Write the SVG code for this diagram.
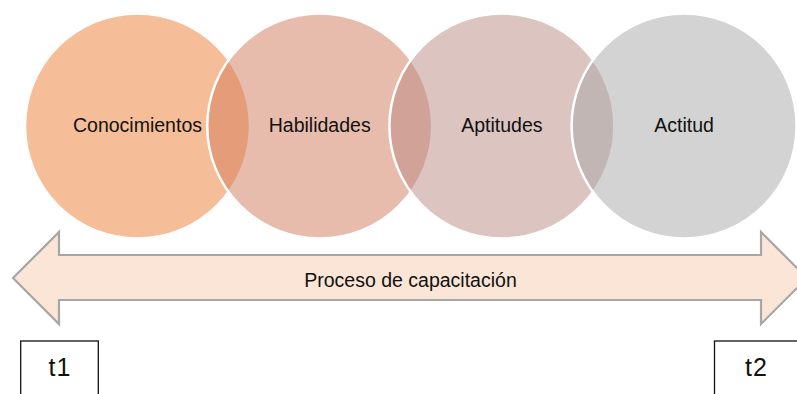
<svg xmlns="http://www.w3.org/2000/svg" width="797" height="394" viewBox="0 0 797 394">
<style>
.c{fill-opacity:0.5;stroke:#ffffff;stroke-width:2.5}
.lbl{font-family:"Liberation Sans",Arial,sans-serif;font-size:19.5px;fill:#111111;text-anchor:middle}
.t{font-family:"Liberation Sans",Arial,sans-serif;font-size:25px;fill:#111111;text-anchor:middle;letter-spacing:1px}
.box{fill:#ffffff;stroke:#111111;stroke-width:1.3}
</style>
<rect width="797" height="394" fill="#ffffff"/>
<g id="conocimientos">
<circle class="c" cx="137.5" cy="126" r="112.5" fill="#ED7D31"/>
</g>
<g id="habilidades">
<circle class="c" cx="319.7" cy="126" r="112.5" fill="#D1795A"/>
</g>
<g id="aptitudes">
<circle class="c" cx="501.9" cy="126" r="112.5" fill="#B98984"/>
</g>
<g id="actitud">
<circle class="c" cx="684.1" cy="126" r="112.5" fill="#A7A7A7"/>
</g>
<g id="labels">
<text class="lbl" x="137.5" y="132">Conocimientos</text>
<text class="lbl" x="319.7" y="132">Habilidades</text>
<text class="lbl" x="501.9" y="132">Aptitudes</text>
<text class="lbl" x="684.1" y="132">Actitud</text>
</g>
<g id="connectors">
<g id="proceso">
<polygon points="13,278 59,232 59,255 761,255 761,232 807,278 761,324 761,300 59,300 59,324" fill="#FBE5D6" stroke="#A6A6A6" stroke-width="2.2" stroke-linejoin="miter"/>
<text class="lbl" x="410.5" y="287">Proceso de capacitación</text>
</g>
</g>
<g id="t1">
<rect class="box" x="20.7" y="341" width="77.6" height="60"/>
<text class="t" x="60" y="376">t1</text>
</g>
<g id="t2">
<rect class="box" x="714.5" y="341" width="84" height="60"/>
<text class="t" x="756.5" y="376">t2</text>
</g>
</svg>
